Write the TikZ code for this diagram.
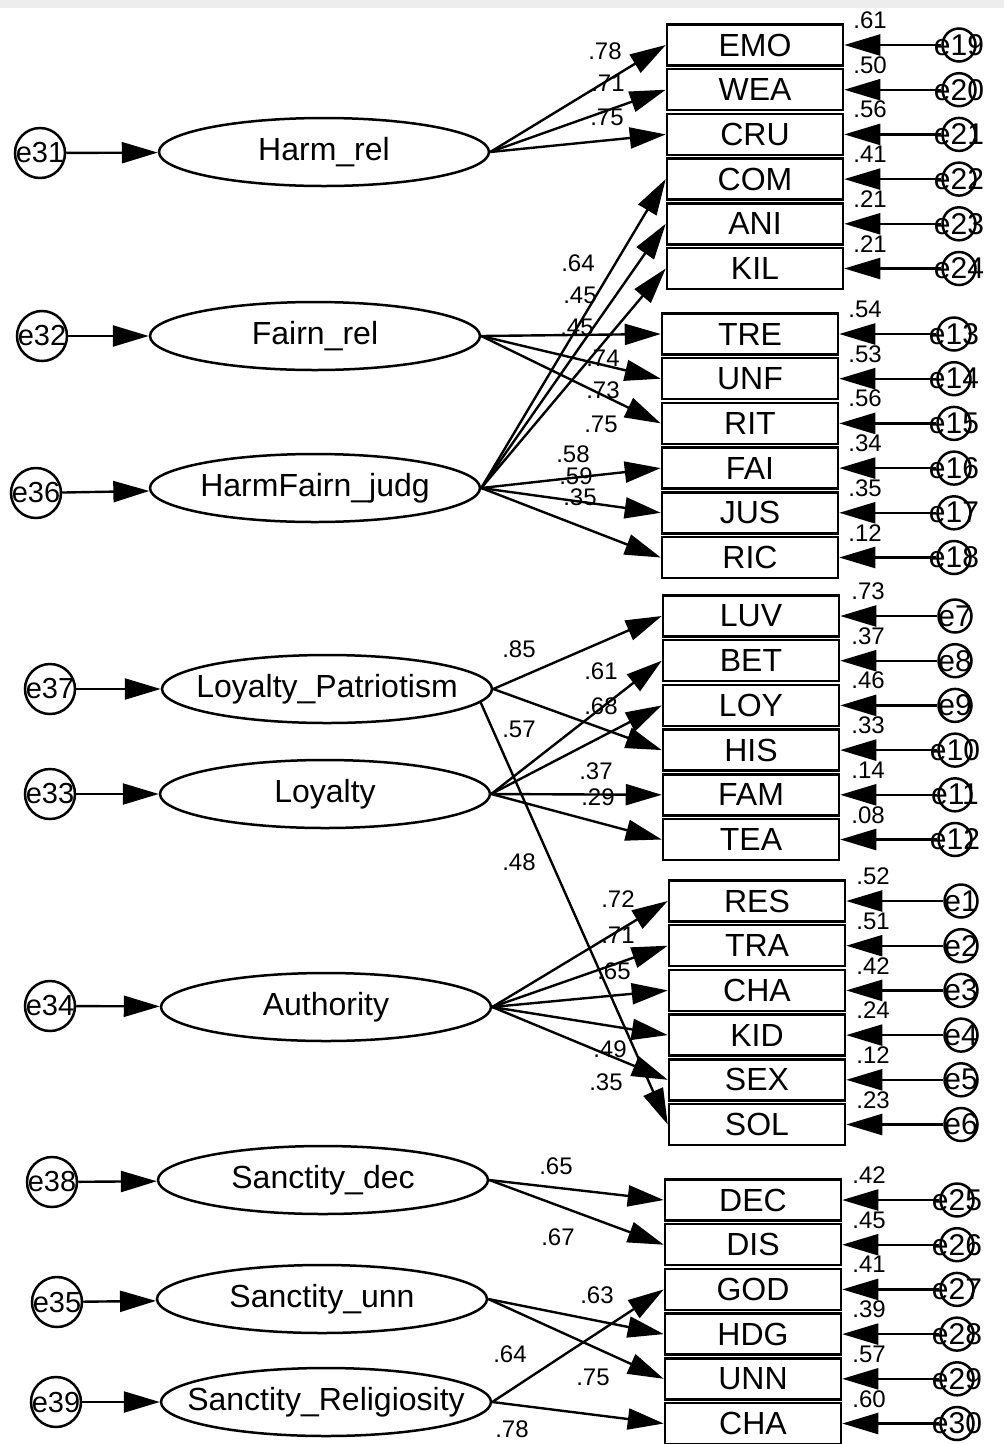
\documentclass[tikz,border=0pt]{standalone}
\usepackage{fontspec}
\setmainfont{Liberation Sans}
\usetikzlibrary{positioning,arrows.meta,shapes.geometric,calc}

% text that does not widen its node
\newcommand{\nowidth}[1]{\makebox[0pt]{#1}}

\tikzset{
  latent/.style={ellipse, draw, line width=2.5pt, minimum width=330pt, minimum height=68pt,
    inner sep=0pt, font=\fontsize{32}{36}\selectfont},
  observed/.style={rectangle, draw, line width=2.5pt, minimum width=176pt, minimum height=41pt,
    inner sep=0pt, font=\fontsize{32}{36}\selectfont},
  errleft/.style={circle, draw, line width=2.5pt, minimum size=50pt, inner sep=0pt,
    font=\fontsize{29}{32}\selectfont},
  errright/.style={circle, draw, line width=2.5pt, minimum size=33pt, inner sep=0pt,
    font=\fontsize{30}{32}\selectfont},
  coef/.style={inner sep=0pt, font=\fontsize{24}{26}\selectfont},
  rsq/.style={coef, anchor=west},
  regress/.style={-{Triangle[length=36pt,width=21pt]}, line width=2.4pt},
}

\begin{document}
\begin{tikzpicture}[x=1pt, y=-1pt]
  \useasboundingbox (0,0) rectangle (1004,1444);
  \fill[white] (0,0) rectangle (1004,1444);
  \fill[black!7] (0,0) rectangle (1004,8);

  % latent variables
  \node[latent] (hr) at (324,152) {\nowidth{Harm\_rel}};
  \node[latent] (fr) at (315,336) {\nowidth{Fairn\_rel}};
  \node[latent] (hfj) at (315,488) {\nowidth{HarmFairn\_judg}};
  \node[latent] (lp) at (327,689) {\nowidth{Loyalty\_Patriotism}};
  \node[latent] (loy) at (325,794) {\nowidth{Loyalty}};
  \node[latent] (auth) at (326,1007) {\nowidth{Authority}};
  \node[latent] (sd) at (323,1180) {\nowidth{Sanctity\_dec}};
  \node[latent] (su) at (322,1299) {\nowidth{Sanctity\_unn}};
  \node[latent] (sr) at (326,1402) {\nowidth{Sanctity\_Religiosity}};

  % disturbances of the latent variables
  \node[errleft] (e31) at (40,153) {\nowidth{e31}};
  \node[errleft] (e32) at (42,336) {\nowidth{e32}};
  \node[errleft] (e36) at (36,493) {\nowidth{e36}};
  \node[errleft] (e37) at (50,689) {\nowidth{e37}};
  \node[errleft] (e33) at (50,794) {\nowidth{e33}};
  \node[errleft] (e34) at (50,1006) {\nowidth{e34}};
  \node[errleft] (e38) at (52,1182) {\nowidth{e38}};
  \node[errleft] (e35) at (57,1302) {\nowidth{e35}};
  \node[errleft] (e39) at (56,1402) {\nowidth{e39}};

  % harm items
  \node[observed] (emo) at (755,45) {EMO};
  \node[observed, below=1.2pt of emo] (wea) {WEA};
  \node[observed, below=1.2pt of wea] (cru) {CRU};
  \node[observed, below=1.2pt of cru] (com) {COM};
  \node[observed, below=1.2pt of com] (ani) {ANI};
  \node[observed, below=1.2pt of ani] (kil) {KIL};
  % fairness items
  \node[observed] (tre) at (750,334) {TRE};
  \node[observed, below=1.2pt of tre] (unf) {UNF};
  \node[observed, below=1.2pt of unf] (rit) {RIT};
  \node[observed, below=1.2pt of rit] (fai) {FAI};
  \node[observed, below=1.2pt of fai] (jus) {JUS};
  \node[observed, below=1.2pt of jus] (ric) {RIC};
  % loyalty items
  \node[observed] (luv) at (751,616) {LUV};
  \node[observed, below=1.2pt of luv] (bet) {BET};
  \node[observed, below=1.2pt of bet] (loyi) {LOY};
  \node[observed, below=1.2pt of loyi] (his) {HIS};
  \node[observed, below=1.2pt of his] (fam) {FAM};
  \node[observed, below=1.2pt of fam] (tea) {TEA};
  % authority items
  \node[observed] (res) at (757,901) {RES};
  \node[observed, below=1.2pt of res] (tra) {TRA};
  \node[observed, below=1.2pt of tra] (cha-a) {CHA};
  \node[observed, below=1.2pt of cha-a] (kid) {KID};
  \node[observed, below=1.2pt of kid] (sex) {SEX};
  \node[observed, below=1.2pt of sex] (sol) {SOL};
  % sanctity items
  \node[observed] (dec) at (753,1200) {DEC};
  \node[observed, below=1.2pt of dec] (dis) {DIS};
  \node[observed, below=1.2pt of dis] (god) {GOD};
  \node[observed, below=1.2pt of god] (hdg) {HDG};
  \node[observed, below=1.2pt of hdg] (unn) {UNN};
  \node[observed, below=1.2pt of unn] (cha-s) {CHA};

  % item errors
  \node[errright, right=97pt of emo] (e19) {\nowidth{e19}};
  \node[errright, right=97pt of wea] (e20) {\nowidth{e20}};
  \node[errright, right=97pt of cru] (e21) {\nowidth{e21}};
  \node[errright, right=97pt of com] (e22) {\nowidth{e22}};
  \node[errright, right=97pt of ani] (e23) {\nowidth{e23}};
  \node[errright, right=97pt of kil] (e24) {\nowidth{e24}};
  \node[errright, right=97pt of tre] (e13) {\nowidth{e13}};
  \node[errright, right=97pt of unf] (e14) {\nowidth{e14}};
  \node[errright, right=97pt of rit] (e15) {\nowidth{e15}};
  \node[errright, right=97pt of fai] (e16) {\nowidth{e16}};
  \node[errright, right=97pt of jus] (e17) {\nowidth{e17}};
  \node[errright, right=97pt of ric] (e18) {\nowidth{e18}};
  \node[errright, right=97pt of luv] (e7) {\nowidth{e7}};
  \node[errright, right=97pt of bet] (e8) {\nowidth{e8}};
  \node[errright, right=97pt of loyi] (e9) {\nowidth{e9}};
  \node[errright, right=97pt of his] (e10) {\nowidth{e10}};
  \node[errright, right=97pt of fam] (e11) {\nowidth{e11}};
  \node[errright, right=97pt of tea] (e12) {\nowidth{e12}};
  \node[errright, right=97pt of res] (e1) {\nowidth{e1}};
  \node[errright, right=97pt of tra] (e2) {\nowidth{e2}};
  \node[errright, right=97pt of cha-a] (e3) {\nowidth{e3}};
  \node[errright, right=97pt of kid] (e4) {\nowidth{e4}};
  \node[errright, right=97pt of sex] (e5) {\nowidth{e5}};
  \node[errright, right=97pt of sol] (e6) {\nowidth{e6}};
  \node[errright, right=97pt of dec] (e25) {\nowidth{e25}};
  \node[errright, right=97pt of dis] (e26) {\nowidth{e26}};
  \node[errright, right=97pt of god] (e27) {\nowidth{e27}};
  \node[errright, right=97pt of hdg] (e28) {\nowidth{e28}};
  \node[errright, right=97pt of unn] (e29) {\nowidth{e29}};
  \node[errright, right=97pt of cha-s] (e30) {\nowidth{e30}};

  % squared multiple correlations
  \node[rsq] (r-emo) at ($(emo.north east)+(9,-3)$) {.61};
  \node[rsq] (r-wea) at ($(wea.north east)+(9,-3)$) {.50};
  \node[rsq] (r-cru) at ($(cru.north east)+(9,-3)$) {.56};
  \node[rsq] (r-com) at ($(com.north east)+(9,-3)$) {.41};
  \node[rsq] (r-ani) at ($(ani.north east)+(9,-3)$) {.21};
  \node[rsq] (r-kil) at ($(kil.north east)+(9,-3)$) {.21};
  \node[rsq] (r-tre) at ($(tre.north east)+(9,-3)$) {.54};
  \node[rsq] (r-unf) at ($(unf.north east)+(9,-3)$) {.53};
  \node[rsq] (r-rit) at ($(rit.north east)+(9,-3)$) {.56};
  \node[rsq] (r-fai) at ($(fai.north east)+(9,-3)$) {.34};
  \node[rsq] (r-jus) at ($(jus.north east)+(9,-3)$) {.35};
  \node[rsq] (r-ric) at ($(ric.north east)+(9,-3)$) {.12};
  \node[rsq] (r-luv) at ($(luv.north east)+(11,-3)$) {.73};
  \node[rsq] (r-bet) at ($(bet.north east)+(11,-3)$) {.37};
  \node[rsq] (r-loyi) at ($(loyi.north east)+(11,-3)$) {.46};
  \node[rsq] (r-his) at ($(his.north east)+(11,-3)$) {.33};
  \node[rsq] (r-fam) at ($(fam.north east)+(11,-3)$) {.14};
  \node[rsq] (r-tea) at ($(tea.north east)+(11,-3)$) {.08};
  \node[rsq] (r-res) at ($(res.north east)+(10,-3)$) {.52};
  \node[rsq] (r-tra) at ($(tra.north east)+(10,-3)$) {.51};
  \node[rsq] (r-cha-a) at ($(cha-a.north east)+(10,-3)$) {.42};
  \node[rsq] (r-kid) at ($(kid.north east)+(10,-3)$) {.24};
  \node[rsq] (r-sex) at ($(sex.north east)+(10,-3)$) {.12};
  \node[rsq] (r-sol) at ($(sol.north east)+(10,-3)$) {.23};
  \node[rsq] (r-dec) at ($(dec.north east)+(10,-3)$) {.42};
  \node[rsq] (r-dis) at ($(dis.north east)+(10,-3)$) {.45};
  \node[rsq] (r-god) at ($(god.north east)+(10,-3)$) {.41};
  \node[rsq] (r-hdg) at ($(hdg.north east)+(10,-3)$) {.39};
  \node[rsq] (r-unn) at ($(unn.north east)+(10,-3)$) {.57};
  \node[rsq] (r-cha-s) at ($(cha-s.north east)+(10,-3)$) {.60};

  % loadings
  \node[coef] (c-emo) at (605,51) {.78};
  \node[coef] (c-wea) at (608,83) {.71};
  \node[coef] (c-cru) at (607,117) {.75};
  \node[coef] (c-com) at (578,263) {.64};
  \node[coef] (c-ani) at (580,295) {.45};
  \node[coef] (c-kil) at (577,327) {.45};
  \node[coef] (c-tre) at (603,358) {.74};
  \node[coef] (c-unf) at (603,390) {.73};
  \node[coef] (c-rit) at (601,424) {.75};
  \node[coef] (c-fai) at (573,454) {.58};
  \node[coef] (c-jus) at (576,476) {.59};
  \node[coef] (c-ric) at (580,497) {.35};
  \node[coef] (c-luv) at (519,649) {.85};
  \node[coef] (c-bet) at (601,671) {.61};
  \node[coef] (c-loyi) at (601,706) {.68};
  \node[coef] (c-his) at (519,729) {.57};
  \node[coef] (c-fam) at (596,771) {.37};
  \node[coef] (c-tea) at (598,797) {.29};
  \node[coef] (c-sol) at (519,862) {.48};
  \node[coef] (c-res) at (618,899) {.72};
  \node[coef] (c-tra) at (618,935) {.71};
  \node[coef] (c-cha-a) at (614,971) {.65};
  \node[coef] (c-kid) at (610,1049) {.49};
  \node[coef] (c-sex) at (606,1082) {.35};
  \node[coef] (c-dec) at (556,1166) {.65};
  \node[coef] (c-dis) at (558,1237) {.67};
  \node[coef] (c-hdg) at (597,1295) {.63};
  \node[coef] (c-god) at (510,1354) {.64};
  \node[coef] (c-unn) at (593,1377) {.75};
  \node[coef] (c-cha-s) at (512,1429) {.78};

  \begin{scope}[regress]
    \draw (e31) to (hr);
    \draw (e32) to (fr);
    \draw (e36) to (hfj);
    \draw (e37) to (lp);
    \draw (e33) to (loy);
    \draw (e34) to (auth);
    \draw (e38) to (sd);
    \draw (e35) to (su);
    \draw (e39) to (sr);

    \draw (hr.east) to (emo.west);
    \draw (hr.east) to (wea.west);
    \draw (hr.east) to (cru.west);
    \draw (hfj.east) to (com.west);
    \draw (hfj.east) to (ani.west);
    \draw (hfj.east) to (kil.west);
    \draw (fr.east) to (tre.west);
    \draw (fr.east) to (unf.west);
    \draw (fr.east) to (rit.west);
    \draw (hfj.east) to (fai.west);
    \draw (hfj.east) to (jus.west);
    \draw (hfj.east) to (ric.west);
    \draw (lp.east) to (luv.west);
    \draw (lp.east) to (his.west);
    \draw (lp.-5) to (sol.west);
    \draw (loy.east) to (bet.west);
    \draw (loy.east) to (loyi.west);
    \draw (loy.east) to (fam.west);
    \draw (loy.east) to (tea.west);
    \draw (auth.east) to (res.west);
    \draw (auth.east) to (tra.west);
    \draw (auth.east) to (cha-a.west);
    \draw (auth.east) to (kid.west);
    \draw (auth.east) to (sex.west);
    \draw (sd.east) to (dec.west);
    \draw (sd.east) to (dis.west);
    \draw (su.east) to (hdg.west);
    \draw (su.east) to (unn.west);
    \draw (sr.east) to (god.west);
    \draw (sr.east) to (cha-s.west);

    \draw (e19) to (emo);
    \draw (e20) to (wea);
    \draw (e21) to (cru);
    \draw (e22) to (com);
    \draw (e23) to (ani);
    \draw (e24) to (kil);
    \draw (e13) to (tre);
    \draw (e14) to (unf);
    \draw (e15) to (rit);
    \draw (e16) to (fai);
    \draw (e17) to (jus);
    \draw (e18) to (ric);
    \draw (e7) to (luv);
    \draw (e8) to (bet);
    \draw (e9) to (loyi);
    \draw (e10) to (his);
    \draw (e11) to (fam);
    \draw (e12) to (tea);
    \draw (e1) to (res);
    \draw (e2) to (tra);
    \draw (e3) to (cha-a);
    \draw (e4) to (kid);
    \draw (e5) to (sex);
    \draw (e6) to (sol);
    \draw (e25) to (dec);
    \draw (e26) to (dis);
    \draw (e27) to (god);
    \draw (e28) to (hdg);
    \draw (e29) to (unn);
    \draw (e30) to (cha-s);
  \end{scope}
\end{tikzpicture}
\end{document}
